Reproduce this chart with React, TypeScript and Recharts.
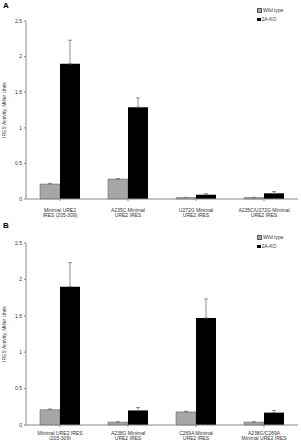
import React from 'react';
import { BarChart, Bar, XAxis, YAxis, ErrorBar, Legend } from 'recharts';

const categoriesA = [
  ['Minimal URE2', 'IRES (205-309)'],
  ['A235C Minimal', 'URE2 IRES'],
  ['U272G Minimal', 'URE2 IRES'],
  ['A235C/U272G Minimal', 'URE2 IRES'],
];
const wildTypeA = [0.21, 0.28, 0.02, 0.02];
const wildTypeErrA = [0.01, 0.005, 0.003, 0.004];
const koA = [1.9, 1.29, 0.06, 0.08];
const koErrA = [0.33, 0.13, 0.015, 0.025];

const categoriesB = [
  ['Minimal URE2 IRES', '(205-309)'],
  ['A238G Minimal', 'URE2 IRES'],
  ['C269A Minimal', 'URE2 IRES'],
  ['A238G/C269A', 'Minimal URE2 IRES'],
];
const wildTypeB = [0.21, 0.04, 0.18, 0.04];
const wildTypeErrB = [0.01, 0.004, 0.01, 0.004];
const koB = [1.9, 0.2, 1.47, 0.17];
const koErrB = [0.33, 0.04, 0.26, 0.03];

const yTicks = [0, 0.5, 1, 1.5, 2, 2.5];

const font = 'Arial, "Liberation Sans", sans-serif';

function buildRows(cats: string[][], wt: number[], wtErr: number[], ko: number[], koErr: number[]) {
  return cats.map((c, i) => ({
    name: c.join('|'),
    wt: wt[i],
    wtErr: [0, wtErr[i]],
    ko: ko[i],
    koErr: [0, koErr[i]],
  }));
}

function CatTick(props: any) {
  const { x, y, payload, first } = props;
  const lines = String(payload.value).split('|');
  return (
    <g transform={`translate(${x},${y})`}>
      {lines.map((l, i) => (
        <text key={i} x={0} y={first + i * 5} textAnchor="middle" fontSize={5} fill="#333" fontFamily={font}>
          {l}
        </text>
      ))}
    </g>
  );
}

function LegendBox() {
  return (
    <div style={{ fontFamily: font, fontSize: 5, color: '#333', lineHeight: '9px' }}>
      <div style={{ display: 'flex', alignItems: 'center' }}>
        <span style={{ width: 3, height: 3, background: '#a6a6a6', border: '0.5px solid #555', marginRight: 1 }} />
        Wild type
      </div>
      <div style={{ display: 'flex', alignItems: 'center' }}>
        <span style={{ width: 3.5, height: 3.5, background: '#000', marginRight: 1 }} />
        2A-KO
      </div>
    </div>
  );
}

function Panel({ data, top, bottom, legendTop, first }: { data: any[]; top: number; bottom: number; legendTop: number; first: number }) {
  return (
    <BarChart width={301} height={220} data={data} margin={{ top, right: 3, bottom, left: 0 }} barCategoryGap={14} barGap={0}>
      <XAxis
        dataKey="name"
        tick={<CatTick first={first} />}
        interval={0}
        stroke="#888"
        tickSize={2}
        height={20}
      />
      <YAxis
        domain={[0, 2.5]}
        ticks={yTicks}
        interval={0}
        width={26}
        stroke="#888"
        tickSize={2}
        tick={{ fontSize: 5, fill: '#333', fontFamily: font }}
        label={{
          value: 'IRES Activity, Miller Units',
          angle: -90,
          position: 'insideLeft',
          offset: 4,
          style: { fontSize: 5, fill: '#333', fontFamily: font, textAnchor: 'middle' },
        }}
      />
      <Legend
        verticalAlign="top"
        align="right"
        content={() => <LegendBox />}
        wrapperStyle={{ top: legendTop, left: 257, width: 40 }}
      />
      <Bar dataKey="wt" fill="#a6a6a6" stroke="#555" strokeWidth={0.5} isAnimationActive={false}>
        <ErrorBar dataKey="wtErr" width={2} stroke="#777" strokeWidth={0.8} />
      </Bar>
      <Bar dataKey="ko" fill="#000" isAnimationActive={false}>
        <ErrorBar dataKey="koErr" width={2} stroke="#777" strokeWidth={0.8} />
      </Bar>
    </BarChart>
  );
}

export default function App() {
  const dataA = buildRows(categoriesA, wildTypeA, wildTypeErrA, koA, koErrA);
  const dataB = buildRows(categoriesB, wildTypeB, wildTypeErrB, koB, koErrB);
  return (
    <div style={{ position: 'absolute', left: 0, top: 0, width: 301, height: 440, background: '#fff' }}>
      <div style={{ position: 'absolute', left: 0, top: 0 }}>
        <Panel data={dataA} top={3} bottom={1} legendTop={6} first={9} />
      </div>
      <div style={{ position: 'absolute', left: 0, top: 220 }}>
        <Panel data={dataB} top={5} bottom={-5} legendTop={13} first={6} />
      </div>
      <div style={{ position: 'absolute', left: 3, top: 1, fontFamily: font, fontWeight: 'bold', fontSize: 8 }}>A</div>
      <div style={{ position: 'absolute', left: 3, top: 221, fontFamily: font, fontWeight: 'bold', fontSize: 8 }}>B</div>
    </div>
  );
}
